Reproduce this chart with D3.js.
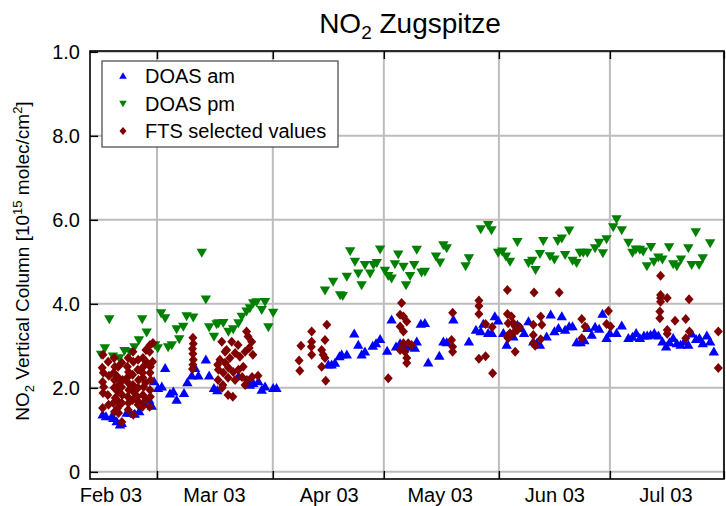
<!DOCTYPE html>
<html><head><meta charset="utf-8">
<script src="https://cdn.jsdelivr.net/npm/d3@7"></script>
<style>body{margin:0;background:#fff} svg{display:block} text{font-family:"Liberation Sans",Arial,Helvetica,sans-serif;fill:#000}</style>
</head><body><svg id="c" width="726" height="506"></svg>
<script>
// ---- data (day of year 2003, NO2 column in 1e15 molec/cm2) ----
const amDays=[29.9,30.8,32.4,32.8,33.7,34.6,35.1,36.4,37.3,38.6,39.8,40.9,42.5,43.2,43.8,44.9,45.9,46.8,48.1,49.0,49.9,51.9,52.8,54.0,54.9,55.8,57.8,58.7,60.0,60.9,
66.6,69.7,70.6,72.0,72.9,73.8,76.0,76.9,
90.9,91.8,92.7,93.9,94.5,95.9,97.9,99.0,99.9,100.8,102.9,103.8,104.9,106.8,108.0,109.2,110.3,111.6,113.0,114.3,114.8,115.9,117.0,117.9,120.9,122.0,122.9,124.7,128.9,130.8,132.1,132.8,134.1,135.1,135.9,136.8,138.2,139.1,
140.9,142.0,142.9,143.8,145.0,146.3,147.2,148.1,149.9,151.0,152.0,153.1,154.0,154.9,156.0,156.9,158.0,159.1,160.1,160.9,162.1,163.0,164.1,165.0,166.1,167.0,168.8,170.2,
172.0,173.1,174.1,175.1,176.2,177.1,178.0,179.0,180.1,181.2,182.2,183.1,184.1,185.1,186.1,187.1,188.2,189.1,190.3,191.2,192.1,193.2,194.1,195.1];
const amValues=[1.36,1.32,1.32,1.28,1.20,1.12,1.16,1.40,1.40,1.38,1.44,1.65,1.71,1.57,2.15,1.99,2.03,2.47,1.86,1.91,1.71,1.87,2.13,2.29,2.47,2.29,2.67,2.29,1.99,1.94,
2.27,2.07,2.11,2.15,1.95,2.03,1.99,1.99,
2.55,2.55,2.59,2.75,2.79,2.79,3.29,3.02,2.79,2.86,3.00,3.06,3.16,2.88,3.62,2.98,3.06,2.98,2.98,2.95,3.10,3.52,3.54,2.60,2.76,3.10,3.08,3.62,3.10,3.38,3.34,3.52,3.30,3.30,3.70,3.60,3.30,3.02,
3.22,3.50,3.42,3.30,3.58,3.10,3.06,3.02,3.22,3.74,3.34,3.42,3.70,3.38,3.46,3.46,3.08,3.08,3.13,3.42,3.26,3.45,3.40,3.76,3.18,3.30,3.30,3.48,
3.18,3.21,3.30,3.18,3.24,3.24,3.26,3.30,3.24,3.10,2.98,3.08,3.18,3.06,3.02,3.10,3.02,3.29,3.16,3.18,3.06,3.24,3.10,2.86];

const pmDays=[29.5,30.5,31.7,32.7,34.4,35.8,37.3,38.5,39.7,40.6,41.8,44.1,44.8,45.7,46.8,47.6,48.6,49.9,50.6,51.7,52.6,54.4,56.7,57.8,58.7,60.0,60.7,
61.2,62.5,63.9,65.2,66.6,67.5,68.8,69.7,70.6,71.5,72.9,73.8,74.7,76.0,
90.0,92.2,94.1,94.8,95.9,96.8,98.1,99.0,99.9,100.8,102.2,103.1,104.0,104.9,106.2,107.1,108.0,108.9,109.8,111.2,111.9,113.0,114.1,114.8,116.1,117.0,120.0,121.1,122.0,122.9,128.0,128.9,132.1,134.1,135.0,136.8,137.9,138.9,140.0,
142.0,145.0,146.0,146.9,148.1,149.0,150.8,152.0,152.9,154.0,154.9,156.0,156.9,158.0,158.9,159.8,160.9,163.0,164.1,165.1,166.1,167.9,168.8,170.2,172.0,173.1,174.0,175.1,176.0,177.0,178.1,178.9,180.1,181.2,183.0,184.1,185.1,186.2,188.2,189.1,190.2,191.1,192.1,194.1];
const pmValues=[2.79,2.95,3.64,2.75,2.71,2.88,2.86,2.97,3.14,3.64,3.32,3.02,2.95,3.78,3.66,2.97,3.02,3.40,3.16,3.46,3.71,3.68,5.22,4.11,3.45,3.22,3.52,
3.54,3.55,3.34,3.40,3.54,3.70,3.82,3.90,4.02,4.04,3.86,4.05,3.45,3.79,
4.32,4.53,4.21,4.19,4.65,5.26,5.01,4.73,4.45,4.93,4.73,4.93,4.98,5.30,4.79,4.67,4.61,4.95,5.18,4.89,4.45,4.67,4.93,5.29,4.75,4.77,5.13,4.99,5.40,5.33,4.90,5.09,5.78,5.88,5.76,5.22,5.25,5.13,5.01,
5.48,4.98,5.03,4.81,5.19,5.50,5.14,5.06,5.50,5.56,5.17,5.75,5.03,4.98,5.22,5.22,5.22,5.33,5.46,5.21,5.54,5.83,6.02,5.76,5.46,5.22,5.30,5.29,5.25,4.90,5.36,5.01,5.11,5.06,5.35,4.95,4.90,5.06,5.33,4.93,5.71,4.93,5.09,5.45];

const ftsDays=[
30.0,29.8,30.1,29.9,30.2,30.0,29.9,
31.4,31.6,31.3,31.5,
33.0,33.2,32.9,33.1,33.0,33.3,32.8,33.1,
34.1,34.0,34.3,34.1,34.2,34.0,34.2,
35.1,35.3,35.0,35.2,35.1,35.1,
36.8,36.6,36.9,36.7,36.8,37.0,36.7,36.9,36.8,
38.1,38.2,38.0,38.1,38.3,38.0,38.2,
39.5,39.4,39.6,39.5,39.3,39.6,39.5,
40.8,40.9,40.7,40.8,41.0,40.8,40.7,
41.6,41.7,41.5,41.6,
42.7,42.6,42.8,42.7,42.9,42.7,42.8,42.6,
43.5,43.4,
54.3,54.4,54.2,54.3,54.4,54.3,54.2,
62.1,63.4,64.8,68.8,69.2,70.2,61.6,63.0,64.3,65.7,67.0,68.4,69.5,61.2,62.5,63.9,65.2,66.6,67.9,61.1,62.4,63.8,65.7,67.6,68.9,70.3,71.9,62.2,63.8,65.1,68.4,63.0,66.5,70.5,61.0,
86.4,83.5,86.4,86.3,86.4,83.0,83.2,90.5,90.0,89.1,89.5,90.0,89.1,90.2,
110.7,110.3,111.2,112.1,110.3,111.2,111.2,112.5,113.4,110.3,111.6,112.1,112.1,107.1,
124.5,124.2,124.5,124.5,
131.6,131.6,131.6,133.4,135.2,131.6,133.4,135.3,
139.3,139.3,140.4,139.5,140.9,141.4,140.0,140.9,139.5,141.4,142.0,142.6,139.2,
146.5,146.3,148.3,148.6,146.3,148.3,146.3,146.8,
153.3,159.4,160.3,159.4,166.6,166.1,167.2,
180.7,180.7,180.7,180.7,182.5,188.4,180.5,180.5,184.6,187.5,182.5,182.5,188.5,187.5,196.3,196.3];
const ftsValues=[
2.79,2.48,2.36,2.14,2.02,1.88,1.52,
2.62,2.29,1.83,1.60,
2.71,2.50,2.36,2.19,2.00,1.76,1.64,1.43,
2.50,2.26,2.07,1.90,1.67,1.52,1.40,
2.60,2.19,2.02,1.83,1.64,1.19,
2.71,2.50,2.38,2.26,2.12,1.95,1.79,1.64,1.48,
2.86,2.62,2.31,2.07,1.90,1.71,1.36,
2.67,2.43,2.19,2.00,1.79,1.67,1.60,
2.71,2.50,2.36,2.24,2.02,1.83,1.55,
2.90,2.62,2.12,1.71,
3.02,2.86,2.50,2.36,2.19,1.95,1.79,1.55,
3.07,2.62,
3.19,3.05,2.93,2.81,2.67,2.55,2.45,
3.10,2.90,3.10,3.34,3.22,3.10,2.67,2.60,2.71,2.83,2.74,2.86,2.95,2.43,2.36,2.48,2.38,2.43,2.50,2.19,2.07,2.24,2.19,2.26,2.19,2.26,2.29,2.00,1.83,1.79,2.07,2.86,3.02,2.79,2.55,
3.34,3.00,3.10,2.98,2.79,2.65,2.41,3.50,3.14,2.90,2.79,2.71,2.50,2.17,
4.02,3.74,3.70,3.58,3.46,3.34,3.06,3.06,3.02,2.90,2.86,2.71,2.59,2.23,
3.79,3.14,2.98,2.86,
4.08,3.95,3.76,3.52,3.45,2.69,2.75,2.35,
4.33,3.76,3.70,3.54,3.54,3.46,3.30,3.30,3.18,2.86,3.38,3.45,3.22,
4.27,3.50,3.70,3.50,3.26,3.16,3.06,3.00,
4.27,3.64,3.46,3.18,3.83,3.52,3.46,
4.67,4.21,4.14,4.05,4.14,4.11,3.82,3.66,3.60,3.64,3.38,3.29,3.34,3.18,3.34,2.47];

const yTicks=[0,2,4,6,8,10];
const yTickLabels=["0","2.0","4.0","6.0","8.0","1.0"];
const monthDays=[32,60,91,121,152,182];
const monthLabels=["Feb 03","Mar 03","Apr 03","May 03","Jun 03","Jul 03"];
const gridDays=[44.6,75.9,105.9,137.0,167.0,197.8];
const xDomainDays=[26.49,197.84];
const yDomain=[-0.17,10.02];
const seriesNames=["DOAS am","DOAS pm","FTS selected values"];
const seriesColors=["#0000ff","#008000","#800000"];

// ---- chart ----
const W=726,H=506, L=90,R=724,T=51,B=479;
const doy=d=>new Date(Date.UTC(2003,0,1)+(d-1)*864e5);
const x=d3.scaleUtc().domain(xDomainDays.map(doy)).range([L,R]);
const y=d3.scaleLinear().domain(yDomain).range([B,T]);
const svg=d3.select("#c");

// grid
const grid=svg.append("g").attr("stroke","#bdbdbd").attr("stroke-width",2);
grid.selectAll(".gx").data(gridDays).join("line")
  .attr("x1",d=>x(doy(d))).attr("x2",d=>x(doy(d))).attr("y1",T).attr("y2",B);
grid.selectAll(".gy").data(yTicks).join("line")
  .attr("y1",d=>y(d)).attr("y2",d=>y(d)).attr("x1",L).attr("x2",R);

// axes
const fs=20;
const ay=svg.append("g").attr("transform",`translate(${L},0)`)
  .call(d3.axisLeft(y).tickValues(yTicks).tickFormat((d,i)=>yTickLabels[i]).tickSize(-8).tickPadding(10));
const axB=svg.append("g").attr("transform",`translate(0,${B})`)
  .call(d3.axisBottom(x).tickValues(gridDays.map(doy)).tickFormat("").tickSize(-8));
const axT=svg.append("g").attr("transform",`translate(0,${T})`)
  .call(d3.axisTop(x).tickValues(gridDays.map(doy)).tickFormat("").tickSize(-8));
const axM=svg.append("g").attr("transform",`translate(0,${B})`)
  .call(d3.axisBottom(x).tickValues(monthDays.map(doy)).tickFormat((d,i)=>monthLabels[i]).tickSize(0).tickPadding(9));
[ay,axB,axT,axM].forEach(g=>{
  g.select(".domain").remove();
  g.selectAll("line").attr("stroke","#000").attr("stroke-width",1.5);
  g.selectAll("text").attr("font-size",fs).attr("font-family","Liberation Sans, Arial, sans-serif").attr("fill","#000");
});

// frame
svg.append("rect").attr("x",L).attr("y",T).attr("width",R-L).attr("height",B-T)
  .attr("fill","none").attr("stroke","#000").attr("stroke-width",1.6);

// markers
const up="M0,-5.2L5.2,3.8L-5.2,3.8Z", down="M0,5.2L5.2,-3.8L-5.2,-3.8Z", dia="M0,-5L4.5,0L0,5L-4.5,0Z";
const shapes=[up,down,dia];
const sets=[d3.zip(amDays,amValues),d3.zip(pmDays,pmValues),d3.zip(ftsDays,ftsValues)];
const plot=svg.append("g");
sets.forEach((s,k)=>{
  plot.append("g").selectAll("path").data(s).join("path")
    .attr("d",shapes[k]).attr("fill",seriesColors[k])
    .attr("transform",d=>`translate(${x(doy(d[0]))},${y(d[1])})`);
});

// legend
const lg=svg.append("g");
lg.append("rect").attr("x",102).attr("y",61).attr("width",236).attr("height",86)
  .attr("fill","#fff").attr("stroke","#444").attr("stroke-width",1.2);
const smallShapes=["M0,-3.8L3.8,2.8L-3.8,2.8Z","M0,3.8L3.8,-2.8L-3.8,-2.8Z","M0,-4L3.5,0L0,4L-3.5,0Z"];
seriesNames.forEach((n,i)=>{
  const yy=76+i*27.5;
  lg.append("path").attr("d",smallShapes[i]).attr("fill",seriesColors[i]).attr("transform",`translate(123,${yy})`);
  lg.append("text").attr("x",145).attr("y",yy+7).attr("font-size",fs).text(n);
});

// title
const t=svg.append("text").attr("x",410).attr("y",33).attr("text-anchor","middle").attr("font-size",28);
t.append("tspan").text("NO");
t.append("tspan").attr("dy",6).attr("font-size",19).text("2");
t.append("tspan").attr("dy",-6).text(" Zugspitze");

// y label
const yl=svg.append("text").attr("transform","translate(29,261) rotate(-90)").attr("text-anchor","middle").attr("font-size",19);
yl.append("tspan").text("NO");
yl.append("tspan").attr("dy",5).attr("font-size",13).text("2");
yl.append("tspan").attr("dy",-5).text(" Vertical Column [10");
yl.append("tspan").attr("dy",-7).attr("font-size",13).text("15");
yl.append("tspan").attr("dy",7).text(" molec/cm");
yl.append("tspan").attr("dy",-7).attr("font-size",13).text("2");
yl.append("tspan").attr("dy",7).text("]");
</script></body></html>
